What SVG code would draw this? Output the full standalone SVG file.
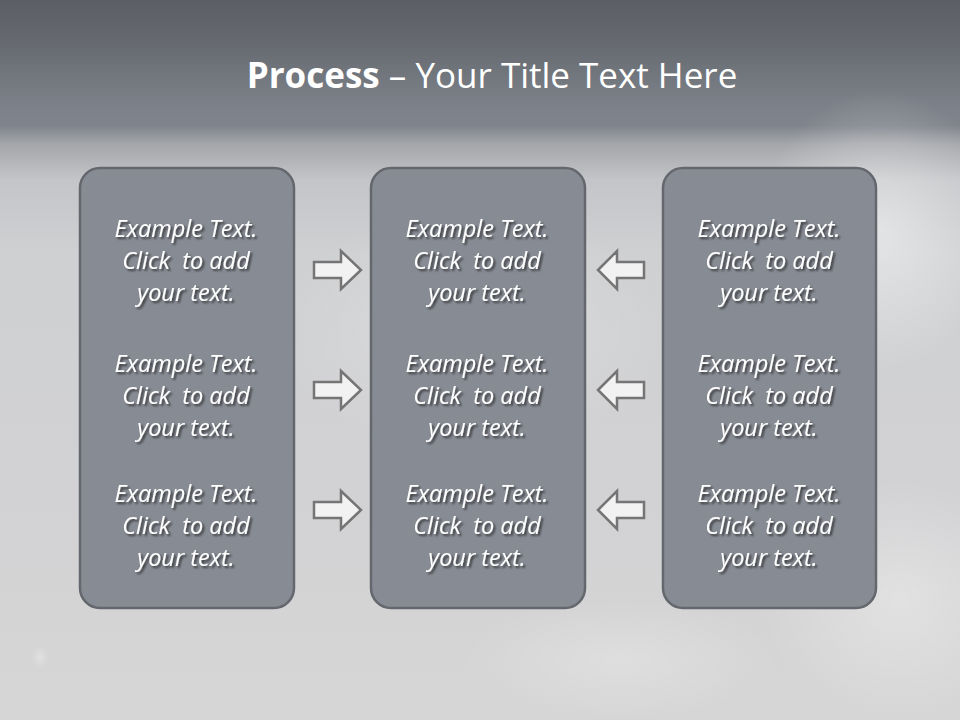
<svg xmlns="http://www.w3.org/2000/svg" width="960" height="720" viewBox="0 0 960 720">
  <defs>
    <linearGradient id="bg" x1="0" y1="0" x2="0" y2="1">
      <stop offset="0" stop-color="#5b5f65"/>
      <stop offset="0.06" stop-color="#666a70"/>
      <stop offset="0.14" stop-color="#7b7f87"/>
      <stop offset="0.175" stop-color="#80848c"/>
      <stop offset="0.2" stop-color="#a4a6aa"/>
      <stop offset="0.25" stop-color="#c4c5c8"/>
      <stop offset="0.35" stop-color="#cfd0d2"/>
      <stop offset="0.7" stop-color="#d2d2d4"/>
      <stop offset="1" stop-color="#d6d6d6"/>
    </linearGradient>
    <radialGradient id="cloud" cx="0.5" cy="0.5" r="0.5">
      <stop offset="0" stop-color="#ffffff" stop-opacity="0.45"/>
      <stop offset="1" stop-color="#ffffff" stop-opacity="0"/>
    </radialGradient>
    <filter id="ts" x="-10%" y="-30%" width="130%" height="170%">
      <feDropShadow dx="2" dy="2" stdDeviation="1.3" flood-color="#000" flood-opacity="0.6"/>
    </filter>
    <path id="ra" d="M0,-8 L27,-8 L27,-19 L47,0 L27,19 L27,8 L0,8 Z"/>
    <path id="la" d="M0,0 L19,-19 L19,-8 L46,-8 L46,8 L19,8 L19,19 Z"/>
  </defs>
  <style>
    .box { fill: #878b93; stroke: #64676d; stroke-width: 2.5; }
    .arrow { fill: #f2f2f2; stroke: #757575; stroke-width: 2.5; stroke-linejoin: miter; }
    .t { font-family: "Open Sans", "Liberation Sans", sans-serif; font-style: italic; font-size: 23.5px; fill: #ffffff; text-anchor: middle; white-space: pre; }
    .title { font-family: "Open Sans", "Liberation Sans", sans-serif; font-size: 35px; fill: #ffffff; text-anchor: middle; }
  </style>
  <rect x="0" y="0" width="960" height="720" fill="url(#bg)"/>
  <ellipse cx="880" cy="230" rx="120" ry="140" fill="url(#cloud)"/>
  <ellipse cx="470" cy="330" rx="200" ry="120" fill="url(#cloud)" opacity="0.5"/>
  <ellipse cx="900" cy="600" rx="140" ry="120" fill="url(#cloud)" opacity="0.7"/>
  <ellipse cx="620" cy="660" rx="160" ry="60" fill="url(#cloud)" opacity="0.5"/>
  <ellipse cx="40" cy="657" rx="9" ry="12" fill="url(#cloud)" opacity="0.6"/>

  <text class="title" x="492" y="88"><tspan font-weight="bold">Process</tspan> – Your Title Text Here</text>

  <g id="box-left">
    <rect class="box" x="80" y="168" width="214" height="440" rx="20"/>
    <g filter="url(#ts)">
      <text class="t" x="186" y="237">Example Text.</text>
      <text class="t" x="186" y="269">Click  to add</text>
      <text class="t" x="186" y="301">your text.</text>
      <text class="t" x="186" y="372">Example Text.</text>
      <text class="t" x="186" y="404">Click  to add</text>
      <text class="t" x="186" y="436">your text.</text>
      <text class="t" x="186" y="502">Example Text.</text>
      <text class="t" x="186" y="534">Click  to add</text>
      <text class="t" x="186" y="566">your text.</text>
    </g>
  </g>
  <g id="box-middle">
    <rect class="box" x="371" y="168" width="214" height="440" rx="20"/>
    <g filter="url(#ts)">
      <text class="t" x="477" y="237">Example Text.</text>
      <text class="t" x="477" y="269">Click  to add</text>
      <text class="t" x="477" y="301">your text.</text>
      <text class="t" x="477" y="372">Example Text.</text>
      <text class="t" x="477" y="404">Click  to add</text>
      <text class="t" x="477" y="436">your text.</text>
      <text class="t" x="477" y="502">Example Text.</text>
      <text class="t" x="477" y="534">Click  to add</text>
      <text class="t" x="477" y="566">your text.</text>
    </g>
  </g>
  <g id="box-right">
    <rect class="box" x="663" y="168" width="213" height="440" rx="20"/>
    <g filter="url(#ts)">
      <text class="t" x="769" y="237">Example Text.</text>
      <text class="t" x="769" y="269">Click  to add</text>
      <text class="t" x="769" y="301">your text.</text>
      <text class="t" x="769" y="372">Example Text.</text>
      <text class="t" x="769" y="404">Click  to add</text>
      <text class="t" x="769" y="436">your text.</text>
      <text class="t" x="769" y="502">Example Text.</text>
      <text class="t" x="769" y="534">Click  to add</text>
      <text class="t" x="769" y="566">your text.</text>
    </g>
  </g>

  <g id="connectors">
    <use href="#ra" class="arrow" x="314" y="270"/>
    <use href="#ra" class="arrow" x="314" y="390"/>
    <use href="#ra" class="arrow" x="314" y="510"/>
    <use href="#la" class="arrow" x="598" y="270"/>
    <use href="#la" class="arrow" x="598" y="390"/>
    <use href="#la" class="arrow" x="598" y="510"/>
  </g>
</svg>
